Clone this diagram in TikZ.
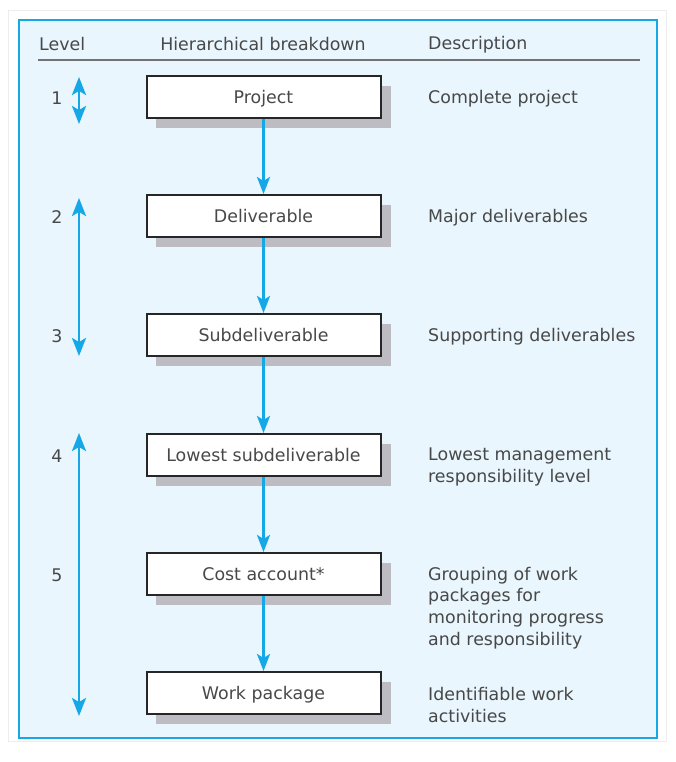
\documentclass[tikz,border=0pt]{standalone}
\usepackage{fontspec}
\setmainfont{DejaVu Sans}
\usepackage{xcolor}
\usetikzlibrary{positioning,arrows.meta,calc}

\definecolor{wbsblue}{RGB}{22,168,230}
\definecolor{wbsfill}{RGB}{233,246,253}
\definecolor{wbstext}{RGB}{72,72,72}
\definecolor{wbsshadow}{RGB}{188,188,194}

\tikzset{
    wbsbox/.style={draw=black!85, line width=2pt, fill=white, minimum width=234pt,
        minimum height=42pt, inner sep=0pt, text=wbstext, text height=13pt, text depth=0pt,
        font=\fontsize{17.4}{20}\selectfont},
    wbslabel/.style={text=wbstext, inner sep=0pt, align=left,
        font=\fontsize{17.4}{21.7}\selectfont},
    wbsflow/.style={draw=wbsblue, line width=2.6pt,
        -{Stealth[length=17pt,width=13pt,inset=4pt]}},
    wbslevel/.style={draw=wbsblue, line width=2.6pt,
        {Stealth[length=18pt,width=14pt,inset=4pt]}-{Stealth[length=18pt,width=14pt,inset=4pt]}},
}

\begin{document}
\begin{tikzpicture}[x=1pt,y=-1pt]
    \useasboundingbox (0,0) rectangle (675,762);
    % frame
    \draw[black!7, line width=1pt] (8,11) rectangle (666,741);
    \draw[wbsblue, fill=wbsfill, line width=2.6pt] (19,20) rectangle (657,738);

    % header
    \node[wbslabel, anchor=west] (hlevel) at (39,44.5) {Level};
    \node[wbslabel] (hbreak) at (263,44.5) {Hierarchical breakdown};
    \node[wbslabel, anchor=west] (hdesc) at (428,44.5) {Description};
    \draw[black!55, line width=1.3pt] (38,60) -- (640,60);

    % boxes with shadow
    \foreach \name/\y/\txt in {b1/97/Project, b2/216/Deliverable, b3/335/Subdeliverable,
        b4/455/Lowest subdeliverable, b5/574/Cost account*, b6/693/Work package}{
        \fill[wbsshadow] (155.5,\y-11) rectangle (390.5,\y+31);
        \node[wbsbox] (\name) at (263.5,\y) {\txt};
    }
    \foreach \a/\b in {b1/b2, b2/b3, b3/b4, b4/b5, b5/b6}
        \draw[wbsflow] (\a.south) -- (\b.north);

    % levels
    \foreach \n/\y in {1/97, 2/216, 3/335, 4/455, 5/574}
        \node[wbslabel] (lev\n) at (57,\y+1.5) {\n};
    \coordinate (l1top) at (79,77);
    \coordinate (l1bot) at (79,124);
    \coordinate (l2top) at (79,198);
    \coordinate (l3bot) at (79,356);
    \coordinate (l4top) at (79,433);
    \coordinate (l6bot) at (79,716);
    \draw[wbslevel] (l1top) -- (l1bot);
    \draw[wbslevel] (l2top) -- (l3bot);
    \draw[wbslevel] (l4top) -- (l6bot);

    % descriptions
    \node[wbslabel, anchor=west] (d1) at (428,98.5) {Complete project};
    \node[wbslabel, anchor=west] (d2) at (428,217.5) {Major deliverables};
    \node[wbslabel, anchor=west] (d3) at (428,336.5) {Supporting deliverables};
    \node[wbslabel, anchor=west] (d4) at (428,467.3) {Lowest management\\responsibility level};
    \node[wbslabel, anchor=west] (d5) at (428,608) {Grouping of work\\packages for\\monitoring progress\\and responsibility};
    \node[wbslabel, anchor=west] (d6) at (428,705.3) {Identifiable work\\activities};
\end{tikzpicture}
\end{document}
